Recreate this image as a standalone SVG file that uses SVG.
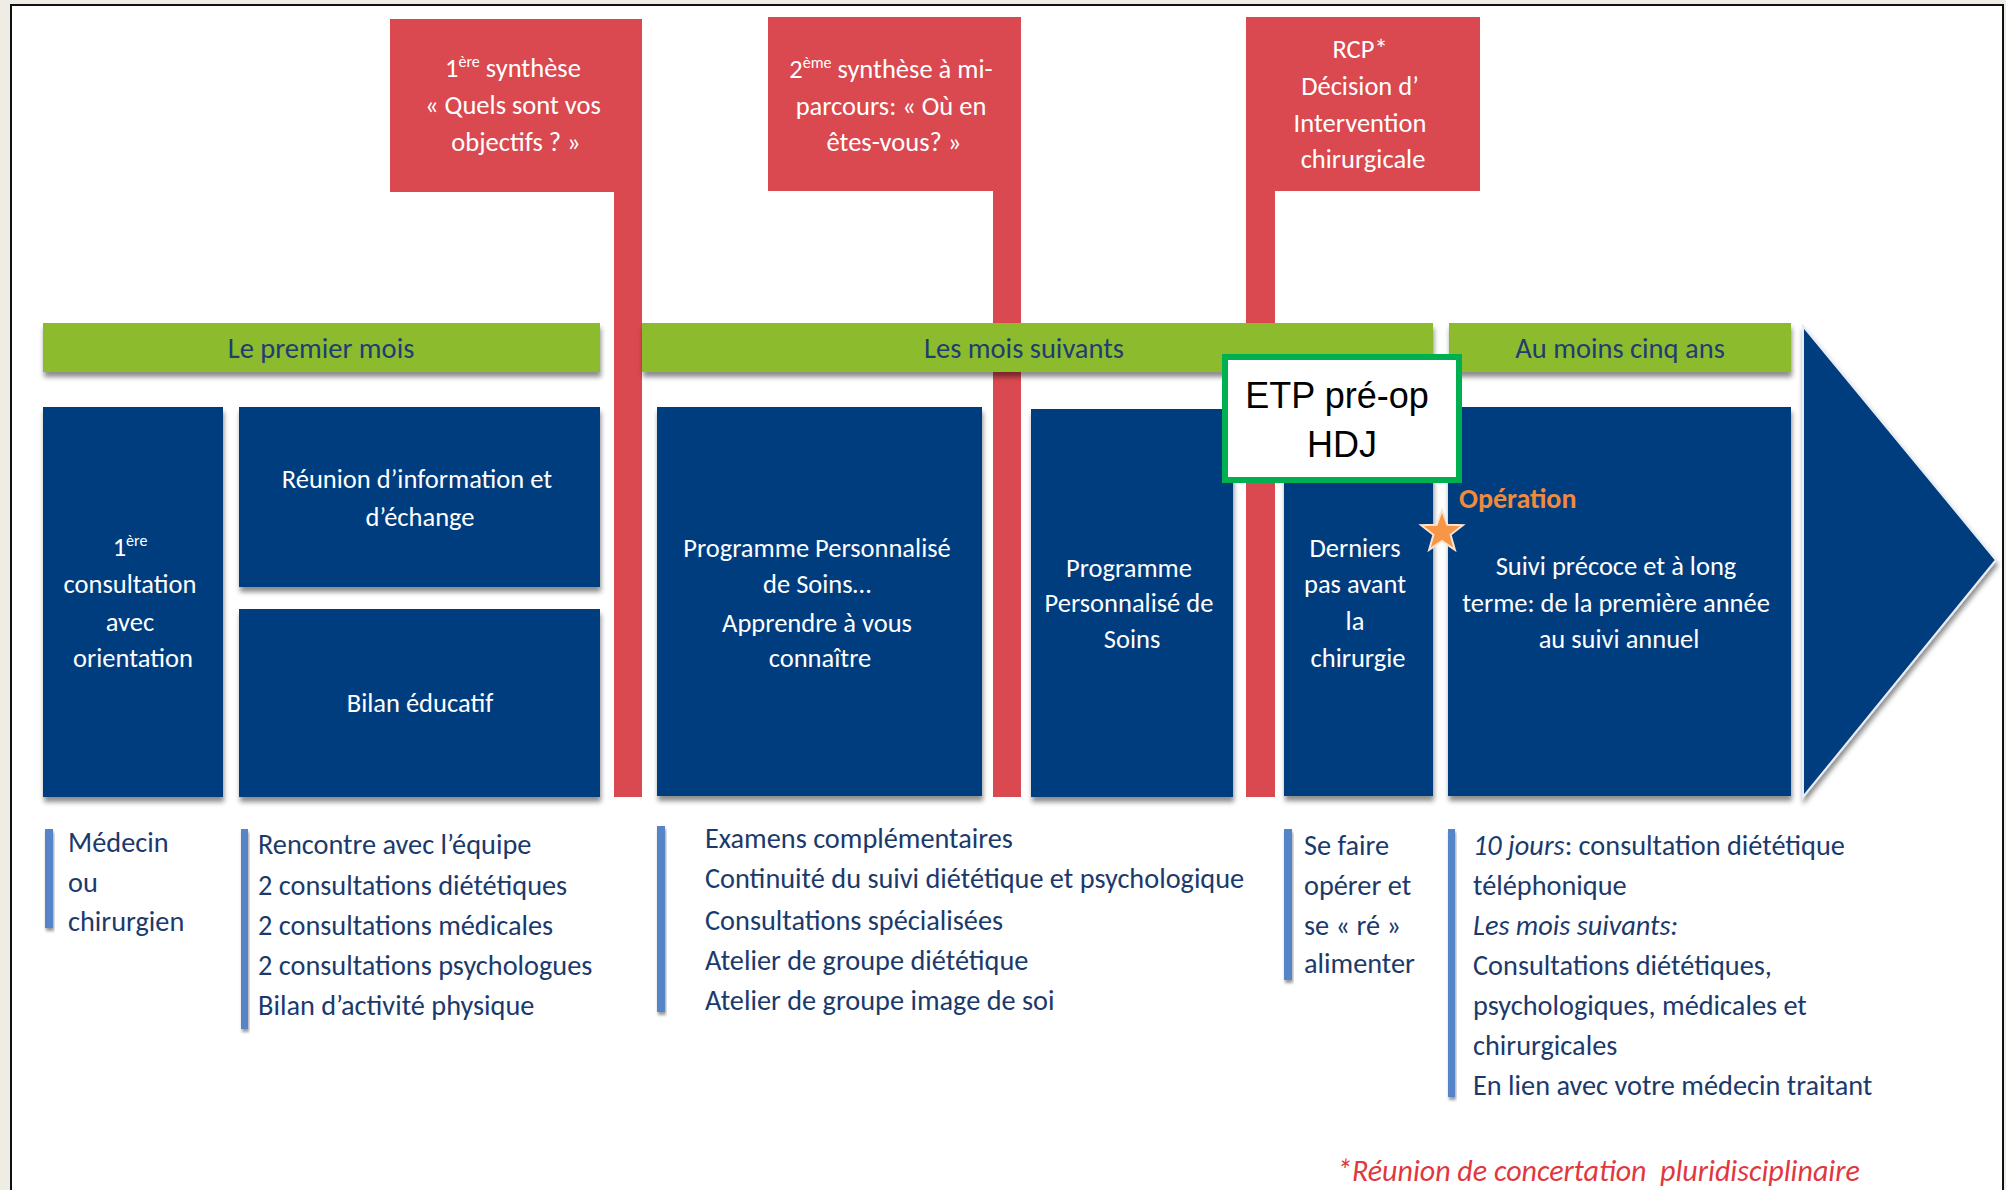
<svg xmlns="http://www.w3.org/2000/svg" width="2006" height="1190" viewBox="0 0 2006 1190">
  <defs>
    <filter id="shadow" x="-10%" y="-10%" width="120%" height="130%">
      <feDropShadow dx="1" dy="5" stdDeviation="2.5" flood-color="#000" flood-opacity="0.45"/>
    </filter>
    <filter id="softShadow" x="-20%" y="-20%" width="140%" height="140%">
      <feDropShadow dx="1" dy="3" stdDeviation="1.5" flood-color="#000" flood-opacity="0.4"/>
    </filter>
    <style>
      .txt { font-family: Carlito, Calibri, Lato, "Open Sans", sans-serif; }
      .callout { fill: #D9494F; }
      .callTxt { fill: #FFFFFF; font-size: 26.5px; font-weight: 500; text-anchor: middle; }
      .phase { fill: #8CBB2F; filter: url(#shadow); }
      .phaseTxt { fill: #1F3C73; font-size: 28.5px; font-weight: 500; text-anchor: middle; }
      .step { fill: #023D7F; filter: url(#shadow); }
      .stepTxt { fill: #FFFFFF; font-size: 26.5px; font-weight: 500; text-anchor: middle; }
      .bar { fill: #5485C8; filter: url(#softShadow); }
      .listTxt { fill: #1B3A6B; font-size: 28.3px; font-weight: 500; }
      .stem { fill: #D9494F; }
      .sup { font-size: 16px; }
    </style>
  </defs>

  <!-- page and frame -->
  <rect x="0" y="0" width="2006" height="1190" fill="#EEECE5"/>
  <rect x="11" y="5" width="1992" height="1200" fill="#FFFFFF" stroke="#111111" stroke-width="2"/>

  <!-- red vertical milestone lines -->
  <g id="connectors">
    <rect class="stem" x="614" y="190" width="28" height="607"/>
    <rect class="stem" x="993" y="189" width="28" height="608"/>
    <rect class="stem" x="1246" y="189" width="29" height="608"/>
  </g>

  <!-- milestone callouts -->
  <g id="synthese1" class="txt">
    <rect class="callout" x="390" y="19" width="252" height="173"/>
    <text class="callTxt">
      <tspan x="516" y="77">1<tspan class="sup" dy="-10">ère</tspan><tspan dy="10"> synthèse</tspan></tspan>
      <tspan x="516" y="114">« Quels sont vos</tspan>
      <tspan x="516" y="151">objectifs ? »</tspan>
    </text>
  </g>
  <g id="synthese2" class="txt">
    <rect class="callout" x="768" y="17" width="253" height="174"/>
    <text class="callTxt">
      <tspan x="894" y="78">2<tspan class="sup" dy="-10">ème</tspan><tspan dy="10"> synthèse à mi-</tspan></tspan>
      <tspan x="894" y="115">parcours: « Où en</tspan>
      <tspan x="894" y="151">êtes-vous? »</tspan>
    </text>
  </g>
  <g id="rcp" class="txt">
    <rect class="callout" x="1246" y="17" width="234" height="174"/>
    <text class="callTxt">
      <tspan x="1363" y="58">RCP*</tspan>
      <tspan x="1363" y="95">Décision d’</tspan>
      <tspan x="1363" y="132">Intervention</tspan>
      <tspan x="1363" y="168">chirurgicale</tspan>
    </text>
  </g>

  <!-- phase headers -->
  <g id="phase-premier-mois" class="txt">
    <rect class="phase" x="43" y="323" width="557" height="49"/>
    <text class="phaseTxt" x="321" y="358">Le premier mois</text>
  </g>
  <g id="phase-mois-suivants" class="txt">
    <rect class="phase" x="642" y="323" width="791" height="49"/>
    <text class="phaseTxt" x="1024" y="358">Les mois suivants</text>
  </g>
  <g id="phase-cinq-ans" class="txt">
    <rect class="phase" x="1449" y="323" width="342" height="49"/>
    <text class="phaseTxt" x="1620" y="358">Au moins cinq ans</text>
  </g>

  <!-- steps -->
  <g id="step-consultation" class="txt">
    <rect class="step" x="43" y="407" width="180" height="390"/>
    <text class="stepTxt">
      <tspan x="133" y="556">1<tspan class="sup" dy="-10">ère</tspan></tspan>
      <tspan x="133" y="593">consultation</tspan>
      <tspan x="133" y="631">avec</tspan>
      <tspan x="133" y="667">orientation</tspan>
    </text>
  </g>
  <g id="step-reunion" class="txt">
    <rect class="step" x="239" y="407" width="361" height="180"/>
    <text class="stepTxt">
      <tspan x="420" y="488">Réunion d’information et</tspan>
      <tspan x="420" y="526">d’échange</tspan>
    </text>
  </g>
  <g id="step-bilan" class="txt">
    <rect class="step" x="239" y="609" width="361" height="188"/>
    <text class="stepTxt" x="420" y="712">Bilan éducatif</text>
  </g>
  <g id="step-pps1" class="txt">
    <rect class="step" x="657" y="407" width="325" height="389"/>
    <text class="stepTxt">
      <tspan x="820" y="557">Programme Personnalisé</tspan>
      <tspan x="820" y="593">de Soins…</tspan>
      <tspan x="820" y="632">Apprendre à vous</tspan>
      <tspan x="820" y="667">connaître</tspan>
    </text>
  </g>
  <g id="step-pps2" class="txt">
    <rect class="step" x="1031" y="409" width="202" height="388"/>
    <text class="stepTxt">
      <tspan x="1132" y="577">Programme</tspan>
      <tspan x="1132" y="612">Personnalisé de</tspan>
      <tspan x="1132" y="648">Soins</tspan>
    </text>
  </g>
  <g id="step-derniers-pas" class="txt">
    <rect class="step" x="1284" y="407" width="149" height="389"/>
    <text class="stepTxt">
      <tspan x="1358" y="557">Derniers</tspan>
      <tspan x="1358" y="593">pas avant</tspan>
      <tspan x="1358" y="630">la</tspan>
      <tspan x="1358" y="667">chirurgie</tspan>
    </text>
  </g>
  <g id="step-suivi" class="txt">
    <rect class="step" x="1448" y="407" width="343" height="389"/>
    <text class="stepTxt">
      <tspan x="1619" y="575">Suivi précoce et à long</tspan>
      <tspan x="1619" y="612">terme: de la première année</tspan>
      <tspan x="1619" y="648">au suivi annuel</tspan>
    </text>
  </g>

  <!-- timeline arrow head -->
  <g id="arrow-head">
    <polygon points="1803,326 1996,560 1803,797" fill="#023D7F" stroke="#E8EDF5" stroke-width="2" filter="url(#shadow)"/>
  </g>

  <!-- ETP pre-op day hospital -->
  <g id="etp-preop">
    <rect x="1225" y="357" width="234" height="123" fill="#FFFFFF" stroke="#00B050" stroke-width="6"/>
    <text font-family="'Liberation Sans', Arial, sans-serif" font-size="36" fill="#000000" text-anchor="middle">
      <tspan x="1342" y="408">ETP pré-op</tspan>
      <tspan x="1342" y="457">HDJ</tspan>
    </text>
  </g>

  <!-- surgery marker -->
  <g id="operation" class="txt">
    <path transform="translate(1442,532)" d="M0,-22 L5.3,-7.3 L20.9,-6.8 L8.6,2.8 L12.9,17.8 L0,9 L-12.9,17.8 L-8.6,2.8 L-20.9,-6.8 L-5.3,-7.3 Z" fill="#F79646" stroke="#FCE4D0" stroke-width="2"/>
    <text x="1459" y="508" font-size="28" font-weight="bold" fill="#F08A3C">Opération</text>
  </g>

  <!-- details under each step -->
  <g id="detail-consultation" class="txt">
    <rect class="bar" x="45" y="829" width="8" height="99"/>
    <text class="listTxt">
      <tspan x="68" y="852">Médecin</tspan>
      <tspan x="68" y="892">ou</tspan>
      <tspan x="68" y="931">chirurgien</tspan>
    </text>
  </g>
  <g id="detail-premier-mois" class="txt">
    <rect class="bar" x="241" y="829" width="7" height="200"/>
    <text class="listTxt">
      <tspan x="258" y="854">Rencontre avec l’équipe</tspan>
      <tspan x="258" y="895">2 consultations diététiques</tspan>
      <tspan x="258" y="935">2 consultations médicales</tspan>
      <tspan x="258" y="975">2 consultations psychologues</tspan>
      <tspan x="258" y="1015">Bilan d’activité physique</tspan>
    </text>
  </g>
  <g id="detail-mois-suivants" class="txt">
    <rect class="bar" x="657" y="826" width="8" height="186"/>
    <text class="listTxt">
      <tspan x="705" y="848">Examens complémentaires</tspan>
      <tspan x="705" y="888">Continuité du suivi diététique et psychologique</tspan>
      <tspan x="705" y="930">Consultations spécialisées</tspan>
      <tspan x="705" y="970">Atelier de groupe diététique</tspan>
      <tspan x="705" y="1010">Atelier de groupe image de soi</tspan>
    </text>
  </g>
  <g id="detail-derniers-pas" class="txt">
    <rect class="bar" x="1284" y="829" width="8" height="151"/>
    <text class="listTxt">
      <tspan x="1304" y="855">Se faire</tspan>
      <tspan x="1304" y="895">opérer et</tspan>
      <tspan x="1304" y="935">se « ré »</tspan>
      <tspan x="1304" y="973">alimenter</tspan>
    </text>
  </g>
  <g id="detail-suivi" class="txt">
    <rect class="bar" x="1448" y="829" width="7" height="268"/>
    <text class="listTxt">
      <tspan x="1473" y="855"><tspan font-style="italic">10 jours</tspan>: consultation diététique</tspan>
      <tspan x="1473" y="895">téléphonique</tspan>
      <tspan x="1473" y="935" font-style="italic">Les mois suivants:</tspan>
      <tspan x="1473" y="975">Consultations diététiques,</tspan>
      <tspan x="1473" y="1015">psychologiques, médicales et</tspan>
      <tspan x="1473" y="1055">chirurgicales</tspan>
      <tspan x="1473" y="1095">En lien avec votre médecin traitant</tspan>
    </text>
  </g>

  <!-- footnote -->
  <text class="txt" x="1337" y="1181" font-size="30" font-style="italic" fill="#E0383E" style="white-space:pre">*Réunion de concertation  pluridisciplinaire</text>
</svg>
